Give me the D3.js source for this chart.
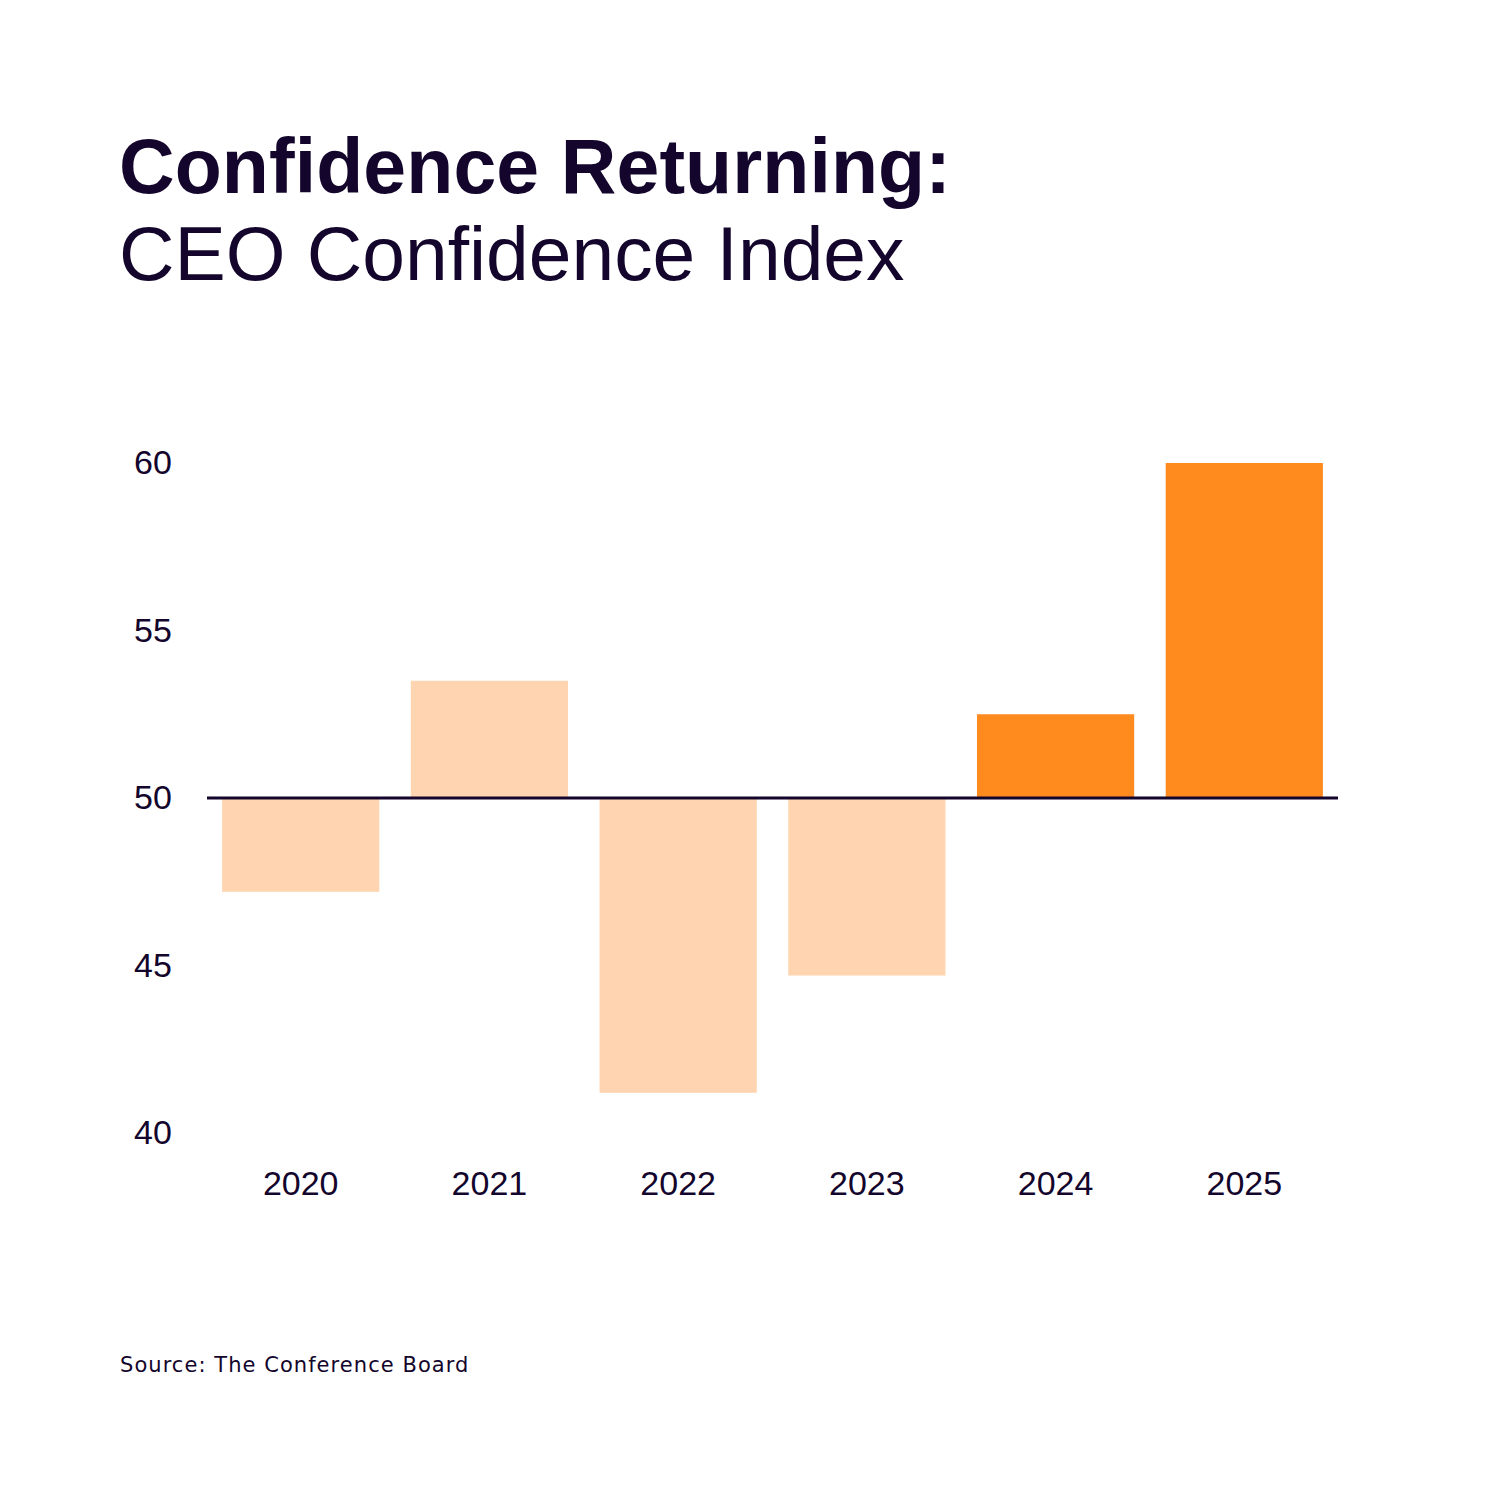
<!DOCTYPE html>
<html>
<head>
<meta charset="utf-8">
<script src="https://cdn.jsdelivr.net/npm/d3@7"></script>
<style>
  html, body { margin: 0; padding: 0; background: #ffffff; }
  svg { display: block; }
</style>
</head>
<body>
<svg id="chart" width="1500" height="1500"></svg>
<script>
const years = ["2020", "2021", "2022", "2023", "2024", "2025"];
const values = [47.2, 53.5, 41.2, 44.7, 52.5, 60.0];
const highlightYears = ["2024", "2025"];
const yTicks = [40, 45, 50, 55, 60];
const baselineValue = 50;
const titleText = "Confidence Returning:";
const subtitleText = "CEO Confidence Index";
const sourceText = "Source: The Conference Board";

const ink = "#13052b";
const light = "#fed5b0";
const strong = "#ff8a1e";

const svg = d3.select("#chart");
svg.append("rect").attr("width", 1500).attr("height", 1500).attr("fill", "#fff");

const x = d3.scaleBand().domain(years).range([207, 1338]).paddingInner(0.167).paddingOuter(0.08);
const y = d3.scaleLinear().domain([40, 60]).range([1133, 463]);

// Title
svg.append("text").attr("x", 119).attr("y", 193)
  .attr("font-family", "'Liberation Sans', Arial, sans-serif")
  .attr("font-weight", 700).attr("font-size", 77).attr("letter-spacing", 0.1)
  .attr("fill", ink).text(titleText);
svg.append("text").attr("x", 119).attr("y", 280)
  .attr("font-family", "'Liberation Sans', Arial, sans-serif")
  .attr("font-weight", 400).attr("font-size", 76.8)
  .attr("fill", ink).text(subtitleText);

// Bars
const data = years.map((yr, i) => ({ year: yr, value: values[i] }));
svg.append("g").selectAll("rect").data(data).join("rect")
  .attr("x", d => x(d.year))
  .attr("width", x.bandwidth())
  .attr("y", d => Math.min(y(d.value), y(baselineValue)))
  .attr("height", d => Math.abs(y(d.value) - y(baselineValue)))
  .attr("fill", d => highlightYears.includes(d.year) ? strong : light);

// Baseline
svg.append("line")
  .attr("x1", 207).attr("x2", 1338)
  .attr("y1", y(baselineValue)).attr("y2", y(baselineValue))
  .attr("stroke", ink).attr("stroke-width", 2.8);

// Y axis
const yAxis = svg.append("g").attr("transform", "translate(134,0)")
  .call(d3.axisLeft(y).tickValues(yTicks).tickSize(0).tickPadding(0).tickFormat(d3.format("d")));
yAxis.select(".domain").remove();
yAxis.selectAll("text")
  .attr("text-anchor", "start").attr("x", 0)
  .attr("font-family", "'Liberation Sans', Arial, sans-serif")
  .attr("font-size", 34).attr("fill", ink);

// X axis
const xAxis = svg.append("g").attr("transform", "translate(0,1171)")
  .call(d3.axisBottom(x).tickSize(0).tickPadding(0));
xAxis.select(".domain").remove();
xAxis.selectAll("text")
  .attr("font-family", "'Liberation Sans', Arial, sans-serif")
  .attr("font-size", 34).attr("fill", ink);

// Source
svg.append("text").attr("x", 120).attr("y", 1372)
  .attr("font-family", "'DejaVu Sans', sans-serif")
  .attr("font-size", 21).attr("letter-spacing", 1.05)
  .attr("fill", ink).text(sourceText);
</script>
</body>
</html>
